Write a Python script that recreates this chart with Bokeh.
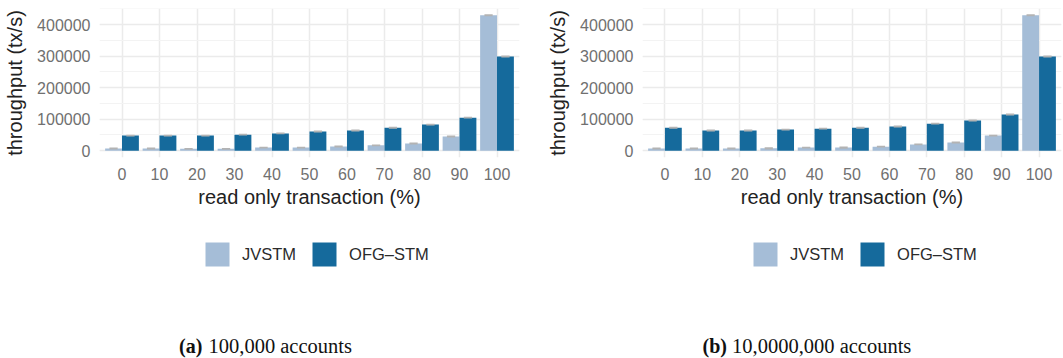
from bokeh.plotting import figure
from bokeh.layouts import row, column
from bokeh.models import (FactorRange, Range1d, Legend, LegendItem, Label,
                          SingleIntervalTicker, BasicTickFormatter, ColumnDataSource)
from bokeh.transform import dodge
from bokeh.embed import file_html
from bokeh.resources import INLINE

# ---------------- data ----------------
categories = ["0", "10", "20", "30", "40", "50", "60", "70", "80", "90", "100"]
series_names = ["JVSTM", "OFG–STM"]

jvstm_a = [7000, 7000, 6000, 6000, 10000, 10000, 13500, 17000, 23000, 45000, 430000]
ofg_a = [48000, 48000, 48000, 51000, 55000, 61000, 64000, 73000, 83000, 105000, 299000]
jvstm_a_err = [3000, 3000, 3000, 3000, 3000, 3000, 3000, 3000, 3000, 3000, 3000]
ofg_a_err = [3000, 3000, 3000, 3000, 3000, 3000, 3000, 3000, 3000, 3000, 3000]

jvstm_b = [7000, 7000, 7000, 7500, 10000, 10000, 13000, 20000, 26000, 48000, 430000]
ofg_b = [73000, 64000, 64000, 67000, 70000, 73000, 77000, 86000, 96000, 115000, 299000]
jvstm_b_err = [3000, 3000, 3000, 3500, 3000, 3500, 3000, 3000, 3000, 3000, 3000]
ofg_b_err = [3000, 3000, 3000, 3000, 3000, 3000, 3000, 3000, 3000, 3000, 3000]

y_ticks_interval = 100000
y_min, y_max = -21500, 451500

caption_a = ("(a)", "100,000 accounts")
caption_b = ("(b)", "10,0000,000 accounts")

x_title = "read only transaction (%)"
y_title = "throughput (tx/s)"

# ---------------- style ----------------
LIGHT = "#A5BDD7"
DARK = "#156A9C"
ERR = "#B3B3B3"
GRID = "#EBEBEB"
GRID_MINOR = "#F3F3F3"
TICK_COL = "#707070"
TITLE_COL = "#222222"
SANS = "Liberation Sans"
SERIF = "Liberation Serif"

TOP_H = 215
FOOT_H = 143


def make_panel(jv, ofg, jv_err, ofg_err, width, border_left, border_right):
    p = figure(width=width, height=TOP_H, output_backend="svg", toolbar_location=None,
               x_range=FactorRange(factors=categories, range_padding=0.1,
                                   range_padding_units="absolute"),
               y_range=Range1d(y_min, y_max),
               min_border_left=border_left, min_border_right=border_right,
               min_border_top=8, min_border_bottom=TOP_H - 157)
    p.outline_line_color = None
    p.background_fill_color = "white"

    src = ColumnDataSource(dict(
        cat=categories, jv=jv, ofg=ofg,
        jv_eh=[2 * e for e in jv_err], ofg_eh=[2 * e for e in ofg_err]))

    p.vbar(x=dodge("cat", -0.225, range=p.x_range), top="jv", bottom=0, width=0.45,
           source=src, fill_color=LIGHT, line_color=None)
    p.vbar(x=dodge("cat", 0.225, range=p.x_range), top="ofg", bottom=0, width=0.45,
           source=src, fill_color=DARK, line_color=None)
    p.rect(x=dodge("cat", -0.225, range=p.x_range), y="jv", width=0.22, height="jv_eh",
           source=src, fill_color=ERR, line_color=None)
    p.rect(x=dodge("cat", 0.225, range=p.x_range), y="ofg", width=0.22, height="ofg_eh",
           source=src, fill_color=ERR, line_color=None)

    p.yaxis.ticker = SingleIntervalTicker(interval=y_ticks_interval, num_minor_ticks=2)
    p.yaxis.formatter = BasicTickFormatter(use_scientific=False)
    for ax in (p.xaxis, p.yaxis):
        ax.axis_line_color = None
        ax.major_tick_line_color = None
        ax.minor_tick_line_color = None
        ax.major_tick_in = 0
        ax.major_tick_out = 0
        ax.minor_tick_in = 0
        ax.minor_tick_out = 0
        ax.major_label_text_font = SANS
        ax.major_label_text_font_size = "16px"
        ax.major_label_text_color = TICK_COL
        ax.axis_label_text_font = SANS
        ax.axis_label_text_font_size = "20px"
        ax.axis_label_text_font_style = "normal"
        ax.axis_label_text_color = TITLE_COL
    p.xaxis.axis_label = x_title
    p.yaxis.axis_label = y_title
    p.xaxis.major_label_standoff = 10
    p.yaxis.major_label_standoff = 9
    p.xaxis.axis_label_standoff = 3
    p.yaxis.axis_label_standoff = 8

    p.xgrid.grid_line_color = GRID
    p.xgrid.grid_line_width = 1.5
    p.ygrid.grid_line_color = GRID
    p.ygrid.grid_line_width = 1.5
    p.ygrid.minor_grid_line_color = GRID_MINOR
    p.ygrid.minor_grid_line_width = 1
    return p


pa = make_panel(jvstm_a, ofg_a, jvstm_a_err, ofg_a_err, 542, 99, 542 - 519)
pb = make_panel(jvstm_b, ofg_b, jvstm_b_err, ofg_b_err, 1063 - 542, 100, 2)

# ---------------- footer: legends + captions ----------------
foot = figure(width=1063, height=FOOT_H, output_backend="svg", toolbar_location=None,
              x_range=Range1d(0, 1063), y_range=Range1d(0, FOOT_H),
              min_border=0, min_border_left=0, min_border_right=0,
              min_border_top=0, min_border_bottom=0)
foot.axis.visible = False
foot.grid.visible = False
foot.outline_line_color = None

# zero-height proxy bars that only serve as legend swatches
proxy = ColumnDataSource(dict(x=[0], top=[0]))
rj = foot.vbar(x="x", top="top", bottom=0, width=0, source=proxy,
               fill_color=LIGHT, line_color=None)
ro = foot.vbar(x="x", top="top", bottom=0, width=0, source=proxy,
               fill_color=DARK, line_color=None)

for lx in (202, 750):
    lg = Legend(items=[LegendItem(label=series_names[0], renderers=[rj]),
                       LegendItem(label=series_names[1], renderers=[ro])],
                location=(lx, FOOT_H - (269 - TOP_H)), orientation="horizontal",
                glyph_width=30, glyph_height=30, label_standoff=10, spacing=13,
                padding=0, margin=0, border_line_color=None,
                background_fill_alpha=0, label_text_font=SANS,
                label_text_font_size="16.5px", label_text_color="#2B2B2B")
    foot.add_layout(lg)

for (cap, x1, x2) in ((caption_a, 178.5, 208), (caption_b, 702, 731.5)):
    foot.add_layout(Label(x=x1, y=358 - 345, x_units="screen", y_units="screen",
                          text=cap[0], text_font=SERIF, text_font_size="20px",
                          text_font_style="bold", text_baseline="middle",
                          text_color="#111111"))
    foot.add_layout(Label(x=x2, y=358 - 345, x_units="screen", y_units="screen",
                          text=cap[1], text_font=SERIF, text_font_size="20.5px",
                          text_baseline="middle", text_color="#111111"))

layout = column(row(pa, pb, spacing=0), foot, spacing=0)
open("out.html", "w").write(file_html(layout, INLINE))
